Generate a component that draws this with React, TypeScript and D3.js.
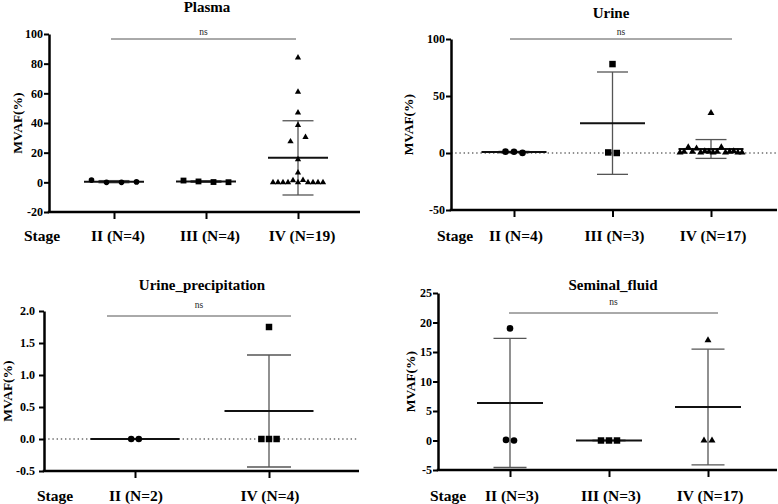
import { useEffect, useRef } from 'react'
import * as d3 from 'd3'

// Plasma
const plasmaStages = ['II (N=4)', 'III (N=4)', 'IV (N=19)']
const plasmaII = [1.5, 0, 0, 0.3]
const plasmaIII = [1.2, 0.6, 0.2, 0.1]
const plasmaIV = [84, 61, 47, 38.5, 27.5, 30.5, 15.5, 6.5, 0, 0, 0, 0, 1.3, 0, 1.5, 0, 0, 0, 0]
const plasmaTicks = [-20, 0, 20, 40, 60, 80, 100]

// Urine
const urineStages = ['II (N=4)', 'III (N=3)', 'IV (N=17)']
const urineII = [1.2, 1.1, 0.1]
const urineIII = [78, 0.5, 0]
const urineIV = [35, 0.5, 1, 5, 1, 4, 0.5, 1.5, 1, 0.5, 1, 5, 0.5, 1, 1.5, 0.5, 0.5]
const urineTicks = [-50, 0, 50, 100]

// Urine_precipitation
const precipStages = ['II (N=2)', 'IV (N=4)']
const precipII = [0, 0]
const precipIV = [1.75, 0, 0, 0]
const precipTicks = [-0.5, 0, 0.5, 1, 1.5, 2]

// Seminal_fluid
const seminalStages = ['II (N=3)', 'III (N=3)', 'IV (N=17)']
const seminalII = [19, 0.1, 0]
const seminalIII = [0, 0, 0]
const seminalIV = [17, 0, 0]
const seminalTicks = [-5, 0, 5, 10, 15, 20, 25]

type Shape = 'circle' | 'square' | 'triangle'

interface Panel {
  title: string
  stages: string[]
  groups: number[][]
  shapes: Shape[]
  ticks: number[]
  decimals: number
  left: number
  right: number
  top: number
  bottom: number
  xRange: [number, number]
  titleX: number
  titleY: number
  nsX: [number, number]
  nsY: number
  nsTextY: number
  stageX: number
  labelY: number
  labelShift: number
  yLabelX: number
  zeroLine: boolean
  step: number
  rowWidth: number
  meanHalf: number
  capHalf: number
  small: boolean
  tickPad: number
}

const panels: Panel[] = [
  {
    title: 'Plasma', stages: plasmaStages, groups: [plasmaII, plasmaIII, plasmaIV],
    shapes: ['circle', 'square', 'triangle'], ticks: plasmaTicks, decimals: 0,
    left: 49, right: 360, top: 34, bottom: 212, xRange: [114, 298],
    titleX: 207, titleY: 12, nsX: [111, 296], nsY: 39, nsTextY: 35,
    stageX: 42, labelY: 241, labelShift: 4, yLabelX: 17, zeroLine: false,
    step: 15, rowWidth: 50, meanHalf: 30, capHalf: 15.5, small: true, tickPad: 1
  },
  {
    title: 'Urine', stages: urineStages, groups: [urineII, urineIII, urineIV],
    shapes: ['circle', 'square', 'triangle'], ticks: urineTicks, decimals: 0,
    left: 451, right: 777, top: 39, bottom: 210, xRange: [514, 711],
    titleX: 611, titleY: 18, nsX: [510, 732], nsY: 39, nsTextY: 35,
    stageX: 455, labelY: 241, labelShift: 2, yLabelX: 408, zeroLine: true,
    step: 8.5, rowWidth: 62, meanHalf: 32.5, capHalf: 15.5, small: false, tickPad: 1
  },
  {
    title: 'Urine_precipitation', stages: precipStages, groups: [precipII, precipIV],
    shapes: ['circle', 'square'], ticks: precipTicks, decimals: 1,
    left: 44, right: 359, top: 311, bottom: 471, xRange: [135, 269],
    titleX: 202, titleY: 290, nsX: [107, 291], nsY: 316, nsTextY: 308,
    stageX: 55, labelY: 501, labelShift: 1, yLabelX: 7, zeroLine: true,
    step: 7.6, rowWidth: 60, meanHalf: 44.5, capHalf: 22, small: false, tickPad: 4
  },
  {
    title: 'Seminal_fluid', stages: seminalStages, groups: [seminalII, seminalIII, seminalIV],
    shapes: ['circle', 'square', 'triangle'], ticks: seminalTicks, decimals: 0,
    left: 438, right: 777, top: 293, bottom: 470, xRange: [510, 708],
    titleX: 613, titleY: 290, nsX: [509, 718], nsY: 313, nsTextY: 305,
    stageX: 448, labelY: 501, labelShift: 2, yLabelX: 410, zeroLine: false,
    step: 8, rowWidth: 60, meanHalf: 33, capHalf: 16.5, small: false, tickPad: 1
  }
]

const FONT = '"Liberation Serif", "Times New Roman", serif'

const symbolTypes: Record<Shape, d3.SymbolType> = {
  circle: d3.symbolCircle,
  square: d3.symbolSquare,
  triangle: d3.symbolTriangle
}

function symbolSize(shape: Shape, small: boolean) {
  if (shape === 'circle') return small ? 25 : 34
  if (shape === 'square') return small ? 34 : 42
  return small ? 17 : 21
}

// rows of near-equal values are spread side by side, centred on the category
function swarm(vals: number[], y: d3.ScaleLinear<number, number>, cx: number, step: number, rowWidth: number) {
  const order = d3.range(vals.length).sort((a, b) => vals[a] - vals[b])
  const rows: number[][] = []
  let base = NaN
  order.forEach(i => {
    const py = y(vals[i])
    if (!rows.length || Math.abs(py - base) > 7) {
      rows.push([i])
      base = py
    } else {
      rows[rows.length - 1].push(i)
    }
  })
  const out: [number, number][] = new Array(vals.length)
  rows.forEach(r => {
    r.sort((a, b) => a - b)
    const s = r.length > 1 ? Math.min(step, rowWidth / (r.length - 1)) : 0
    r.forEach((i, k) => {
      out[i] = [cx + (k - (r.length - 1) / 2) * s, y(vals[i])]
    })
  })
  return out
}

function drawPanel(g: d3.Selection<SVGGElement, unknown, null, undefined>, p: Panel) {
  const y = d3.scaleLinear()
    .domain([p.ticks[0], p.ticks[p.ticks.length - 1]])
    .range([p.bottom, p.top])
  const x = d3.scalePoint<string>().domain(p.stages).range(p.xRange)

  // dotted zero reference
  if (p.zeroLine) {
    g.append('line')
      .attr('x1', p.left).attr('x2', p.right)
      .attr('y1', y(0)).attr('y2', y(0))
      .style('stroke', '#222')
      .style('stroke-width', '1.2px')
      .style('stroke-dasharray', '1.4 2.8')
  }

  // title
  g.append('text')
    .attr('x', p.titleX)
    .attr('y', p.titleY)
    .attr('text-anchor', 'middle')
    .style('font-family', FONT)
    .style('font-weight', 'bold')
    .style('font-size', '15px')
    .text(p.title)

  // ns comparison line
  g.append('line')
    .attr('x1', p.nsX[0]).attr('x2', p.nsX[1])
    .attr('y1', p.nsY).attr('y2', p.nsY)
    .style('stroke', '#555')
    .style('stroke-width', '1px')
  g.append('text')
    .attr('x', (p.nsX[0] + p.nsX[1]) / 2)
    .attr('y', p.nsTextY)
    .attr('text-anchor', 'middle')
    .style('font-family', FONT)
    .style('font-size', '9.5px')
    .style('fill', '#222')
    .text('ns')

  p.groups.forEach((vals, i) => {
    const cx = x(p.stages[i])!
    const m = d3.mean(vals) ?? 0
    const sd = d3.deviation(vals) ?? 0

    // SD whiskers
    g.append('line')
      .attr('x1', cx).attr('x2', cx)
      .attr('y1', y(m - sd)).attr('y2', y(m + sd))
      .style('stroke', '#555')
      .style('stroke-width', '1.3px')
    ;[m - sd, m + sd].forEach(v => {
      g.append('line')
        .attr('x1', cx - p.capHalf).attr('x2', cx + p.capHalf)
        .attr('y1', y(v)).attr('y2', y(v))
        .style('stroke', '#555')
        .style('stroke-width', '1.3px')
    })

    // mean
    g.append('line')
      .attr('x1', cx - p.meanHalf).attr('x2', cx + p.meanHalf)
      .attr('y1', y(m)).attr('y2', y(m))
      .style('stroke', '#111')
      .style('stroke-width', '2px')

    const shape = p.shapes[i]
    const sym = d3.symbol().type(symbolTypes[shape]).size(symbolSize(shape, p.small))
    g.append('g')
      .selectAll('path')
      .data(swarm(vals, y, cx, p.step, p.rowWidth))
      .join('path')
      .attr('transform', d => `translate(${d[0]},${d[1]})`)
      .attr('d', sym)
      .style('fill', '#000')
  })

  // y axis
  const yAxis = d3.axisLeft(y)
    .tickValues(p.ticks)
    .tickSize(5)
    .tickSizeOuter(0)
    .tickPadding(p.tickPad)
    .tickFormat(d => (+d).toFixed(p.decimals))
  const yg = g.append('g').attr('transform', `translate(${p.left},0)`).call(yAxis)
  yg.select('.domain').style('stroke', '#000').style('stroke-width', '2.5px')
  yg.selectAll('.tick line').style('stroke', '#000').style('stroke-width', '2px')
  yg.selectAll('.tick text')
    .style('font-family', FONT)
    .style('font-weight', 'bold')
    .style('font-size', '12px')
    .style('fill', '#000')

  // x axis baseline spans the full plot width
  g.append('line')
    .attr('x1', p.left - 1.25).attr('x2', p.right)
    .attr('y1', p.bottom).attr('y2', p.bottom)
    .style('stroke', '#000')
    .style('stroke-width', '2.5px')
  const xAxis = d3.axisBottom(x).tickSize(7).tickSizeOuter(0).tickFormat(() => '')
  const xg = g.append('g').attr('transform', `translate(0,${p.bottom})`).call(xAxis)
  xg.select('.domain').remove()
  xg.selectAll('.tick line').style('stroke', '#000').style('stroke-width', '2px')

  // stage labels
  const labelStyle = (t: d3.Selection<SVGTextElement, unknown, null, undefined>) =>
    t.attr('text-anchor', 'middle')
      .style('font-family', FONT)
      .style('font-weight', 'bold')
      .style('font-size', '15.5px')
  labelStyle(g.append('text').attr('x', p.stageX).attr('y', p.labelY).text('Stage'))
  p.stages.forEach(s => {
    labelStyle(g.append('text').attr('x', x(s)! + p.labelShift).attr('y', p.labelY).text(s))
  })

  // y axis title
  g.append('text')
    .attr('transform', `translate(${p.yLabelX},${(p.top + p.bottom) / 2}) rotate(-90)`)
    .attr('text-anchor', 'middle')
    .attr('dy', '0.35em')
    .style('font-family', FONT)
    .style('font-weight', 'bold')
    .style('font-size', '13.5px')
    .text('MVAF(%)')
}

export default function App() {
  const svgRef = useRef<SVGSVGElement>(null)

  useEffect(() => {
    if (!svgRef.current) return
    const svg = d3.select(svgRef.current)
    svg.selectAll('*').remove()
    panels.forEach(p => drawPanel(svg.append('g'), p))
  }, [])

  return (
    <svg
      ref={svgRef}
      width={778}
      height={504}
      style={{ position: 'absolute', left: 0, top: 0, background: '#fff' }}
    />
  )
}
